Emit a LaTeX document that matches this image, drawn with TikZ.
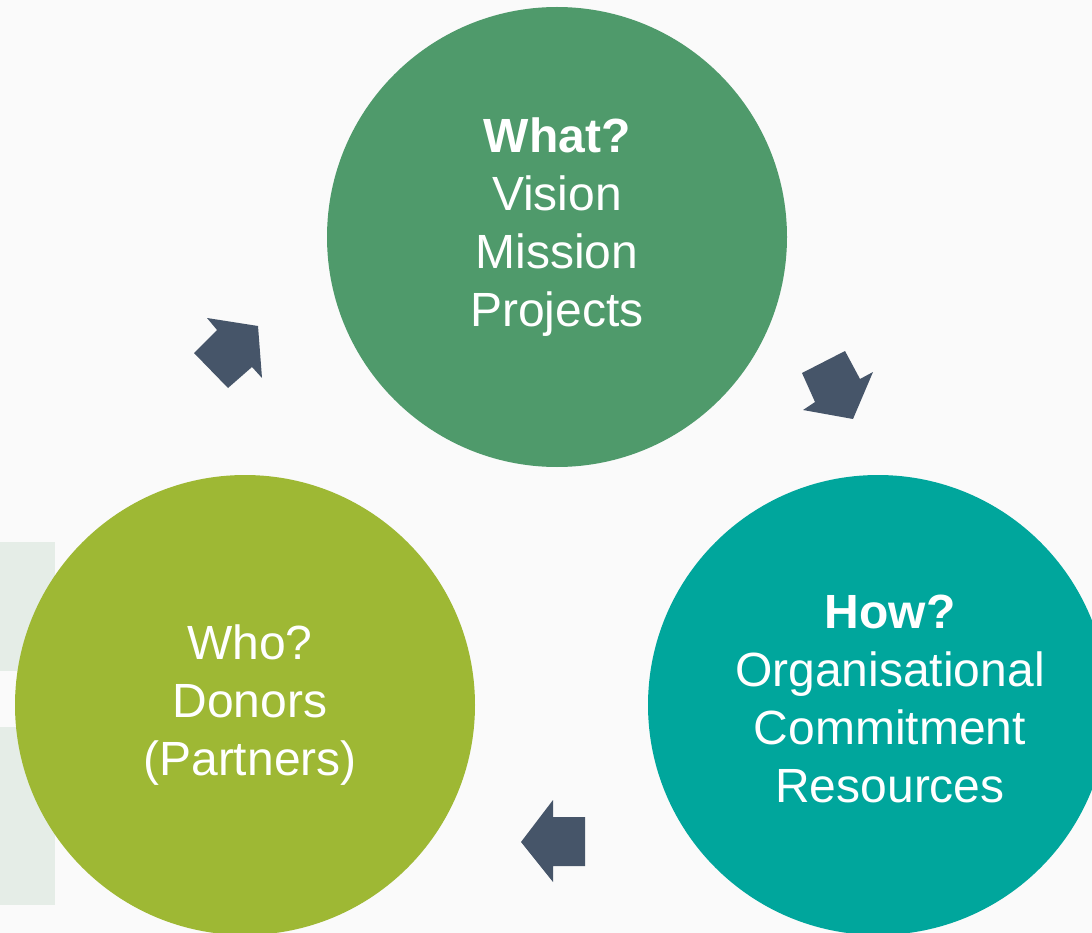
\documentclass[tikz,border=0pt]{standalone}
\usepackage{fontspec}
\setmainfont{Liberation Sans}
\definecolor{bgc}{HTML}{FAFAFA}
\definecolor{faint}{HTML}{E5EDE7}
\definecolor{topg}{HTML}{4F9A6B}
\definecolor{lime}{HTML}{9EB834}
\definecolor{teal}{HTML}{00A69C}
\definecolor{arr}{HTML}{465569}
\tikzset{
  bubble/.style={circle, minimum size=460pt, inner sep=0pt, draw=none},
  label/.style={text=white, align=center, font=\fontsize{48pt}{58pt}\selectfont, inner sep=0pt},
  blockarrow/.style={fill=arr, draw=none}
}
\begin{document}
\begin{tikzpicture}[x=1pt,y=-1pt]
\useasboundingbox (0,0) rectangle (1092,933);
\clip (0,0) rectangle (1092,933);
\fill[bgc] (0,0) rectangle (1092,933);
% faint watermark blocks
\fill[faint] (0,542) rectangle (55,671);
\fill[faint] (0,727) rectangle (55,905);
% circles
\node[bubble, fill=topg] (what) at (557,237) {};
\node[bubble, fill=lime] (who) at (245,705) {};
\node[bubble, fill=teal] (how) at (878,705) {};
% texts
\node[label] (twhat) at (557,227) {\textbf{What?}\\Vision\\Mission\\Projects};
\node[label] (thow) at (890,699) {\textbf{How?}\\Organisational\\Commitment\\Resources};
\node[label] (twho) at (250,705) {Who?\\Donors\\(Partners)};
% block arrows
\fill[blockarrow] (207,318) -- (258,326) -- (262,378) -- (252,367) -- (228,388) -- (194,353) -- (217,330) -- cycle;
\fill[blockarrow] (815,402) -- (802,373) -- (845,351) -- (860,379) -- (873,372) -- (853,419) -- (803,410) -- cycle;
\fill[blockarrow] (521,842) -- (553,800) -- (553,817) -- (585,817) -- (585,866) -- (553,866) -- (553,882) -- cycle;
\end{tikzpicture}
\end{document}
